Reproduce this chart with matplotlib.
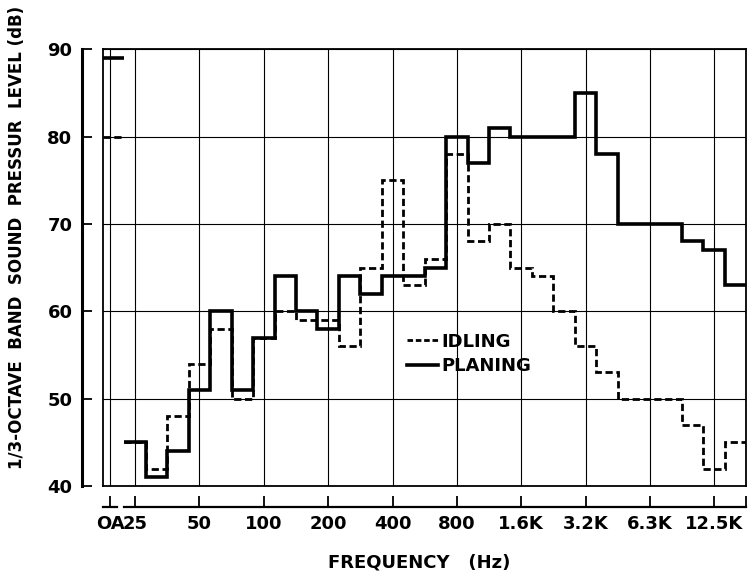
import matplotlib.pyplot as plt
import matplotlib.transforms as transforms
from matplotlib.lines import Line2D
import numpy as np

# 1/3 octave band centres, 25 Hz .. 16 kHz
bands = ["25", "31.5", "40", "50", "63", "80", "100", "125", "160", "200",
         "250", "315", "400", "500", "630", "800", "1K", "1.25K", "1.6K", "2K",
         "2.5K", "3.2K", "4K", "5K", "6.3K", "8K", "10K", "12.5K", "16K"]
idling = [45, 42, 48, 54, 58, 50, 57, 60, 59, 59, 56, 65, 75, 63, 66, 78, 68, 70,
          65, 64, 60, 56, 53, 50, 50, 50, 47, 42, 45]
planing = [45, 41, 44, 51, 60, 51, 57, 64, 60, 58, 64, 62, 64, 64, 65, 80, 77, 81,
           80, 80, 80, 85, 78, 70, 70, 70, 68, 67, 63]
oa_idling = 80
oa_planing = 89

tick_labels = ["OA", "25", "50", "100", "200", "400", "800", "1.6K", "3.2K", "6.3K", "12.5K"]
y_ticks = [40, 50, 60, 70, 80, 90]

plt.rcParams['font.family'] = ['DejaVu Sans']
plt.rcParams['font.weight'] = 'bold'

fig = plt.figure(figsize=(7.49, 5.78), dpi=100)
ax = fig.add_axes([0.1375, 0.159, 0.859, 0.756])

edges = np.arange(len(bands) + 1) - 0.5
oa_pos = -1.0
oa_edges = [oa_pos - 0.5, oa_pos + 0.5]

dash = (0, (2.6, 1.3))
ax.stairs(idling, edges, baseline=None, color='black', lw=2.0, linestyle=dash, zorder=3)
ax.stairs(planing, edges, baseline=None, color='black', lw=2.6, zorder=4)
ax.stairs([oa_idling], oa_edges, baseline=None, color='black', lw=2.0, linestyle=dash, zorder=3)
ax.stairs([oa_planing], oa_edges, baseline=None, color='black', lw=2.6, zorder=4)

ax.set_xlim(-1.5, len(bands) - 0.5)
ax.set_ylim(40, 90)

#TICKS
tick_pos = [oa_pos - 0.15] + [bands.index(t) for t in tick_labels[1:]] + [len(bands) - 0.5]
ax.set_xticks(tick_pos)
ax.set_xticklabels(tick_labels + [""])
ax.set_yticks(y_ticks)
ax.set_yticklabels([str(v) for v in y_ticks])

ax.tick_params(axis='x', direction='in', length=8, width=1.3, pad=6, labelsize=13)
ax.tick_params(axis='y', direction='in', length=7, width=1.3, pad=7, labelsize=13)
for lbl in ax.get_xticklabels():
    lbl.set_fontfamily('Liberation Sans')
    lbl.set_fontweight('bold')

#GRID
ax.grid(True, color='black', lw=0.8)
ax.xaxis.get_gridlines()[0].set_linestyle((0, (6, 3)))
ax.xaxis.get_gridlines()[0].set_linewidth(0.7)

#AXIS LINES OFFSET FROM THE BOX
ax.spines['left'].set_position(('outward', 15))
ax.spines['left'].set_linewidth(2.2)
ax.spines['bottom'].set_position(('outward', 15))
ax.spines['bottom'].set_linewidth(1.6)
ax.spines['bottom'].set_bounds(-0.5, len(bands) - 0.5)
ax.spines['top'].set_linewidth(1.3)
ax.spines['right'].set_linewidth(1.3)

# box edges left and bottom
ax.axvline(-1.5, color='black', lw=1.3, clip_on=False)
ax.axhline(40, color='black', lw=1.3, clip_on=False)

# short piece of axis under OA
trans = transforms.blended_transform_factory(ax.transData, ax.transAxes)
trans = transforms.offset_copy(trans, fig=fig, y=-15, units='points')
ax.plot([-1.5, -0.85], [0, 0], transform=trans, color='black', lw=1.6, clip_on=False)

#LEGEND
handles = [Line2D([], [], color='black', lw=2.0, linestyle=(0, (2, 1))),
           Line2D([], [], color='black', lw=2.6)]
ax.legend(handles, ["IDLING", "PLANING"], loc='upper left', bbox_to_anchor=(0.448, 0.388),
          frameon=False, handlelength=1.7, handletextpad=0.15, labelspacing=0.35,
          prop={'size': 13, 'weight': 'bold'})

fig.text(0.023, 0.59, "1/3-OCTAVE  BAND  SOUND  PRESSUR  LEVEL (dB)", rotation=90,
         ha='center', va='center', fontsize=12, fontweight='bold')
fig.text(0.56, 0.026, "FREQUENCY   (Hz)", ha='center', va='center', fontsize=13,
         fontweight='bold')

plt.savefig("out.png", dpi=100)
plt.close()
